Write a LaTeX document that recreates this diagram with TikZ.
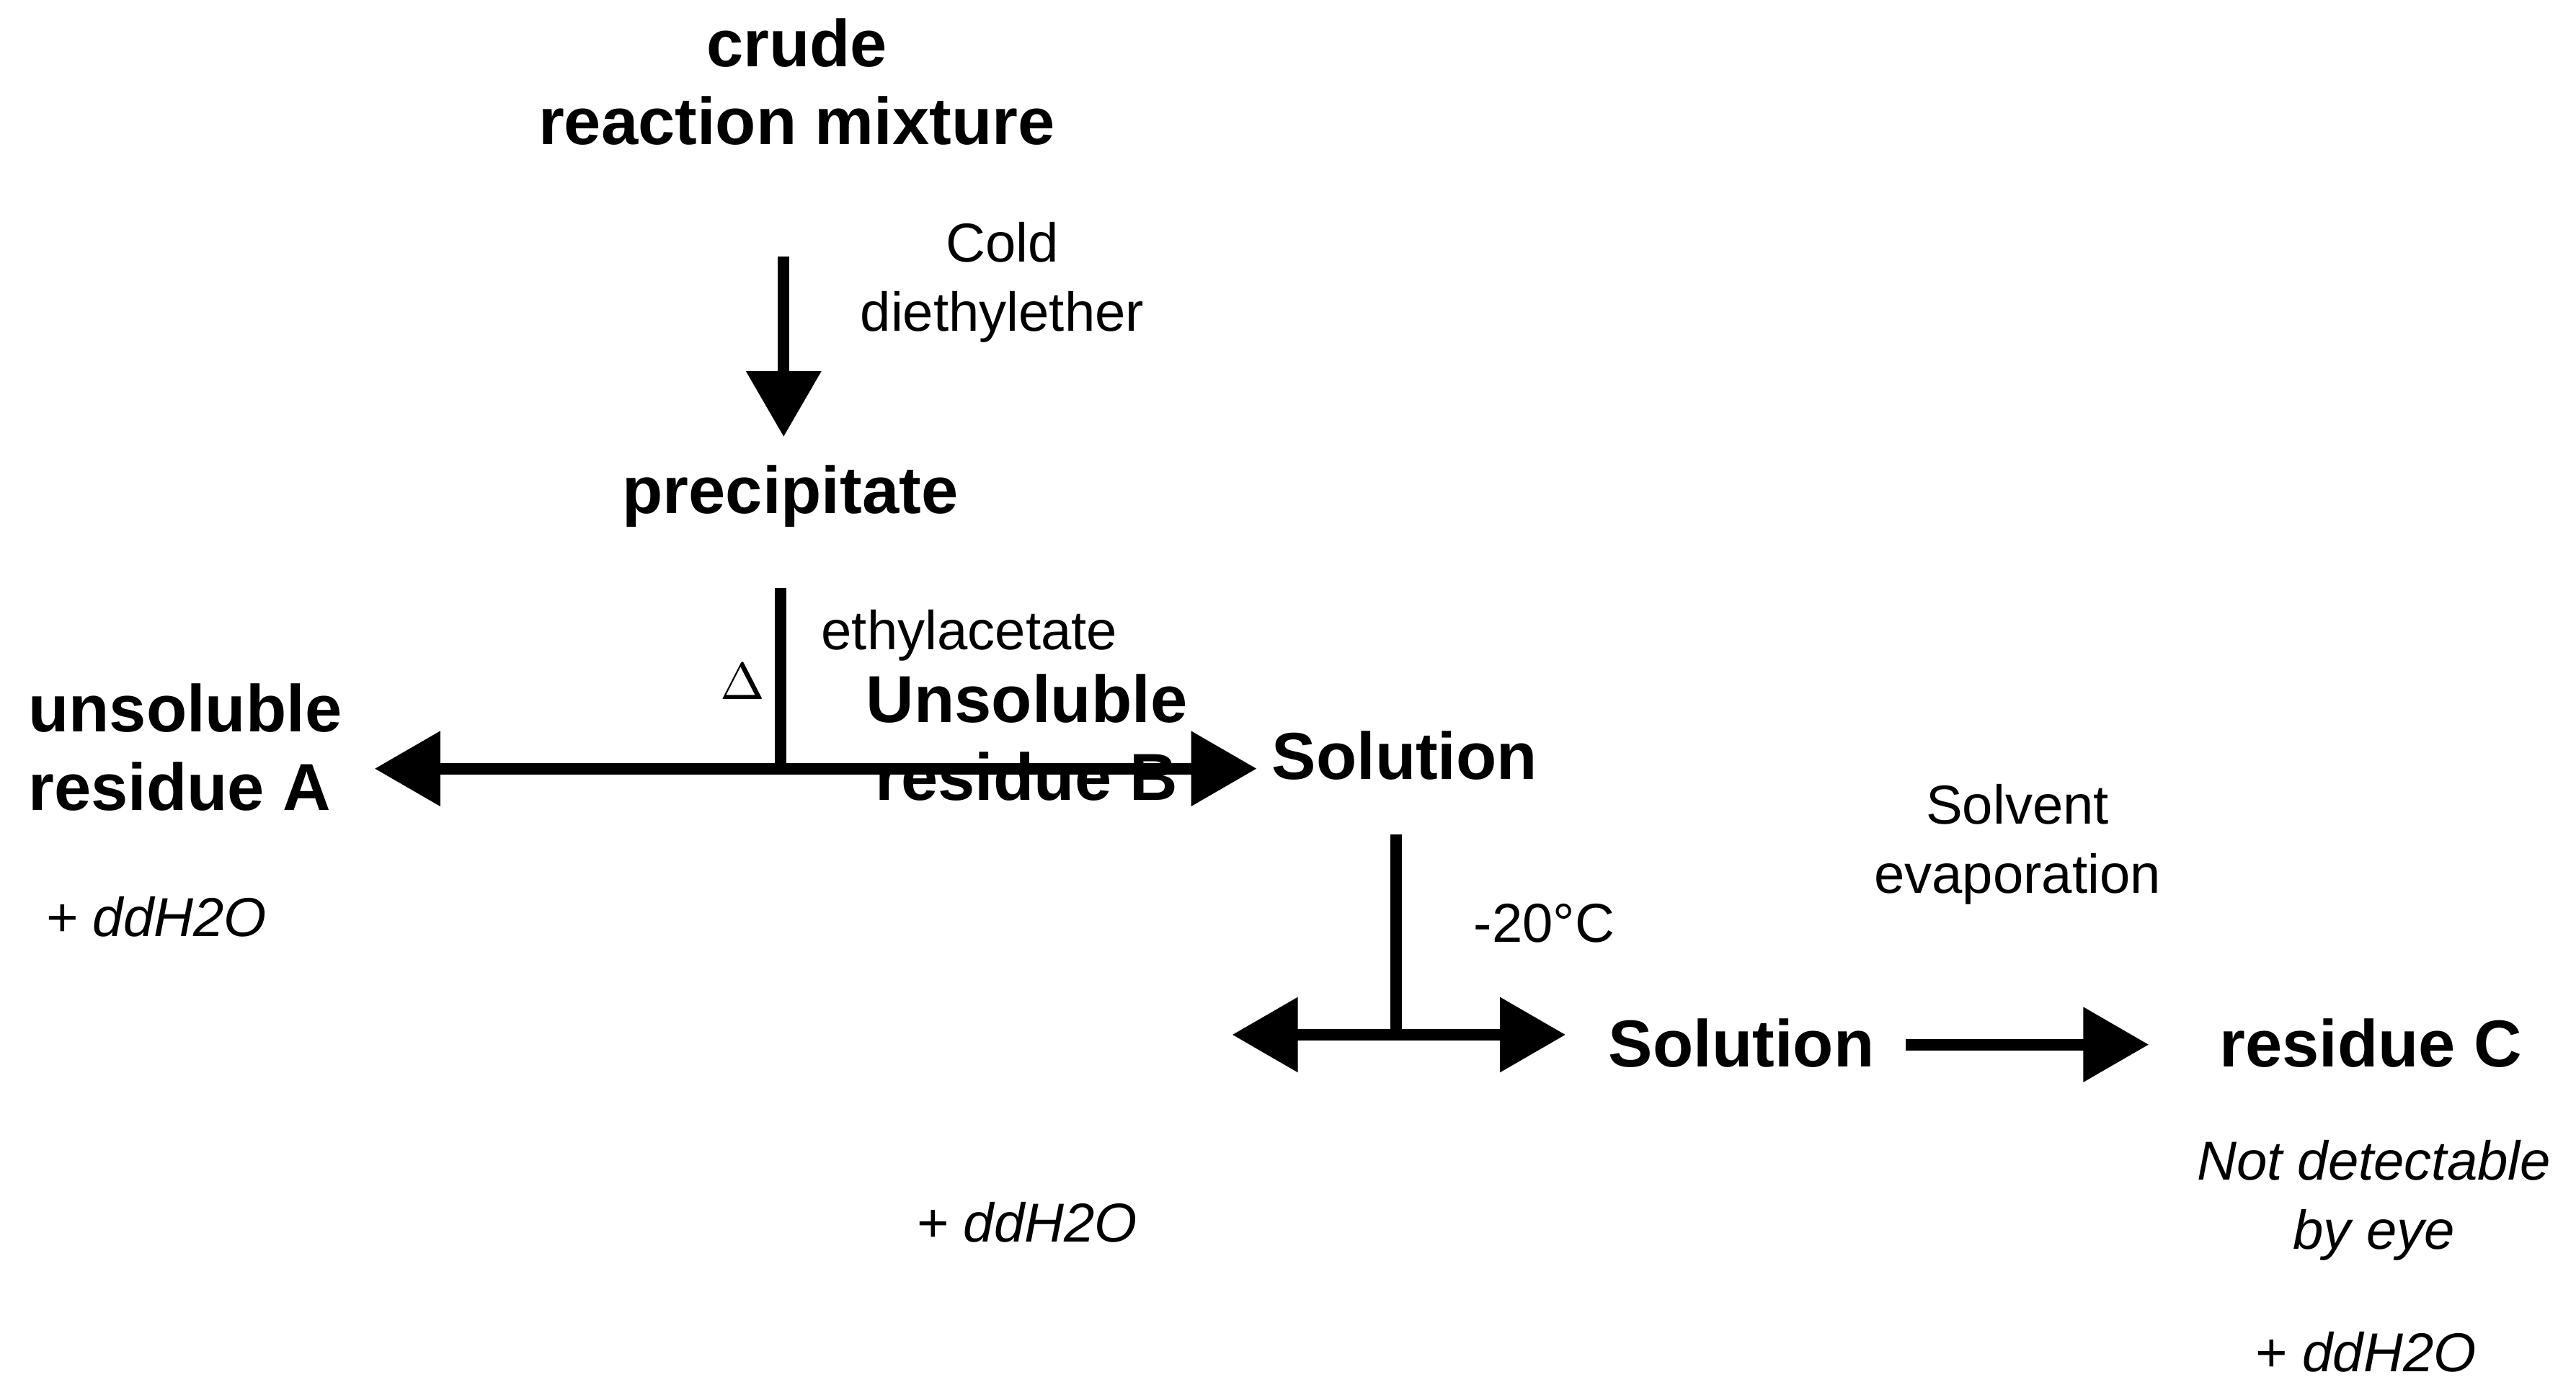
\documentclass[tikz,border=0pt]{standalone}
\usepackage{fontspec}
\setmainfont{Liberation Sans}
\usetikzlibrary{arrows.meta,positioning}
\tikzset
{
    stage/.style  = {font=\fontsize{11.5}{13.5}\selectfont\bfseries, align=center, inner sep=1pt},
    note/.style   = {font=\fontsize{9.5}{12}\selectfont, align=center, inner sep=1pt},
    extra/.style  = {font=\fontsize{9.5}{12}\selectfont\itshape, align=center, inner sep=1pt},
    flow/.style   = {line width=2pt, -{Triangle[length=0.4cm,width=0.44cm]}},
    split/.style  = {line width=2pt, {Triangle[length=0.4cm,width=0.44cm]}-{Triangle[length=0.4cm,width=0.44cm]}},
    stem/.style   = {line width=2pt}
}
\begin{document}
\begin{tikzpicture}
\useasboundingbox (0,0) rectangle (15.68,8.46);
% main products
\node(crude) [stage] at (4.85,7.96) {crude\\reaction mixture};
\node(prec) [stage] at (4.81,5.44) {precipitate};
\node(resA) [stage, align=left, anchor=west] at (0.13,3.91) {unsoluble\\residue A};
\node(solA) [stage] at (8.55,3.86) {Solution};
\node(resB) [stage] at (6.25,3.97) {Unsoluble\\residue B};
\node(solB) [stage] at (10.6,2.11) {Solution};
\node(resC) [stage] at (14.43,2.11) {residue C};
% conditions
\node(cold) [note] at (6.1,6.74) {Cold\\diethylether};
\node(ethyl) [note] at (5.9,4.59) {ethylacetate};
\node(delta) [note] at (4.52,4.31) {$\Delta$};
\node(cool) [note] at (9.4,2.84) {-20°C};
\node(evap) [note] at (12.28,3.32) {Solvent\\evaporation};
\node(addA) [extra] at (0.95,2.88) {+ ddH2O};
\node(addB) [extra] at (6.25,1.02) {+ ddH2O};
\node(eye) [extra] at (14.45,1.15) {Not detectable\\by eye};
\node(addC) [extra] at (14.4,0.23) {+ ddH2O};
% connectors
\coordinate(t1) at (4.77,6.9);
\coordinate(b1) at (4.77,5.8);
\coordinate(t2) at (4.75,4.88);
\coordinate(jA) at (4.75,3.78);
\coordinate(t3) at (8.5,3.38);
\coordinate(jB) at (8.5,2.16);
\coordinate(lA) at (2.28,3.78);
\coordinate(rA) at (7.65,3.78);
\coordinate(lB) at (7.5,2.16);
\coordinate(rB) at (9.53,2.16);
\coordinate(lC) at (11.6,2.1);
\coordinate(rC) at (13.08,2.1);
\draw[flow] (t1) -- (b1);
\draw[stem] (t2) -- (jA);
\draw[split] (lA) -- (rA);
\draw[stem] (t3) -- (jB);
\draw[split] (lB) -- (rB);
\draw[flow] (lC) -- (rC);
\end{tikzpicture}
\end{document}
